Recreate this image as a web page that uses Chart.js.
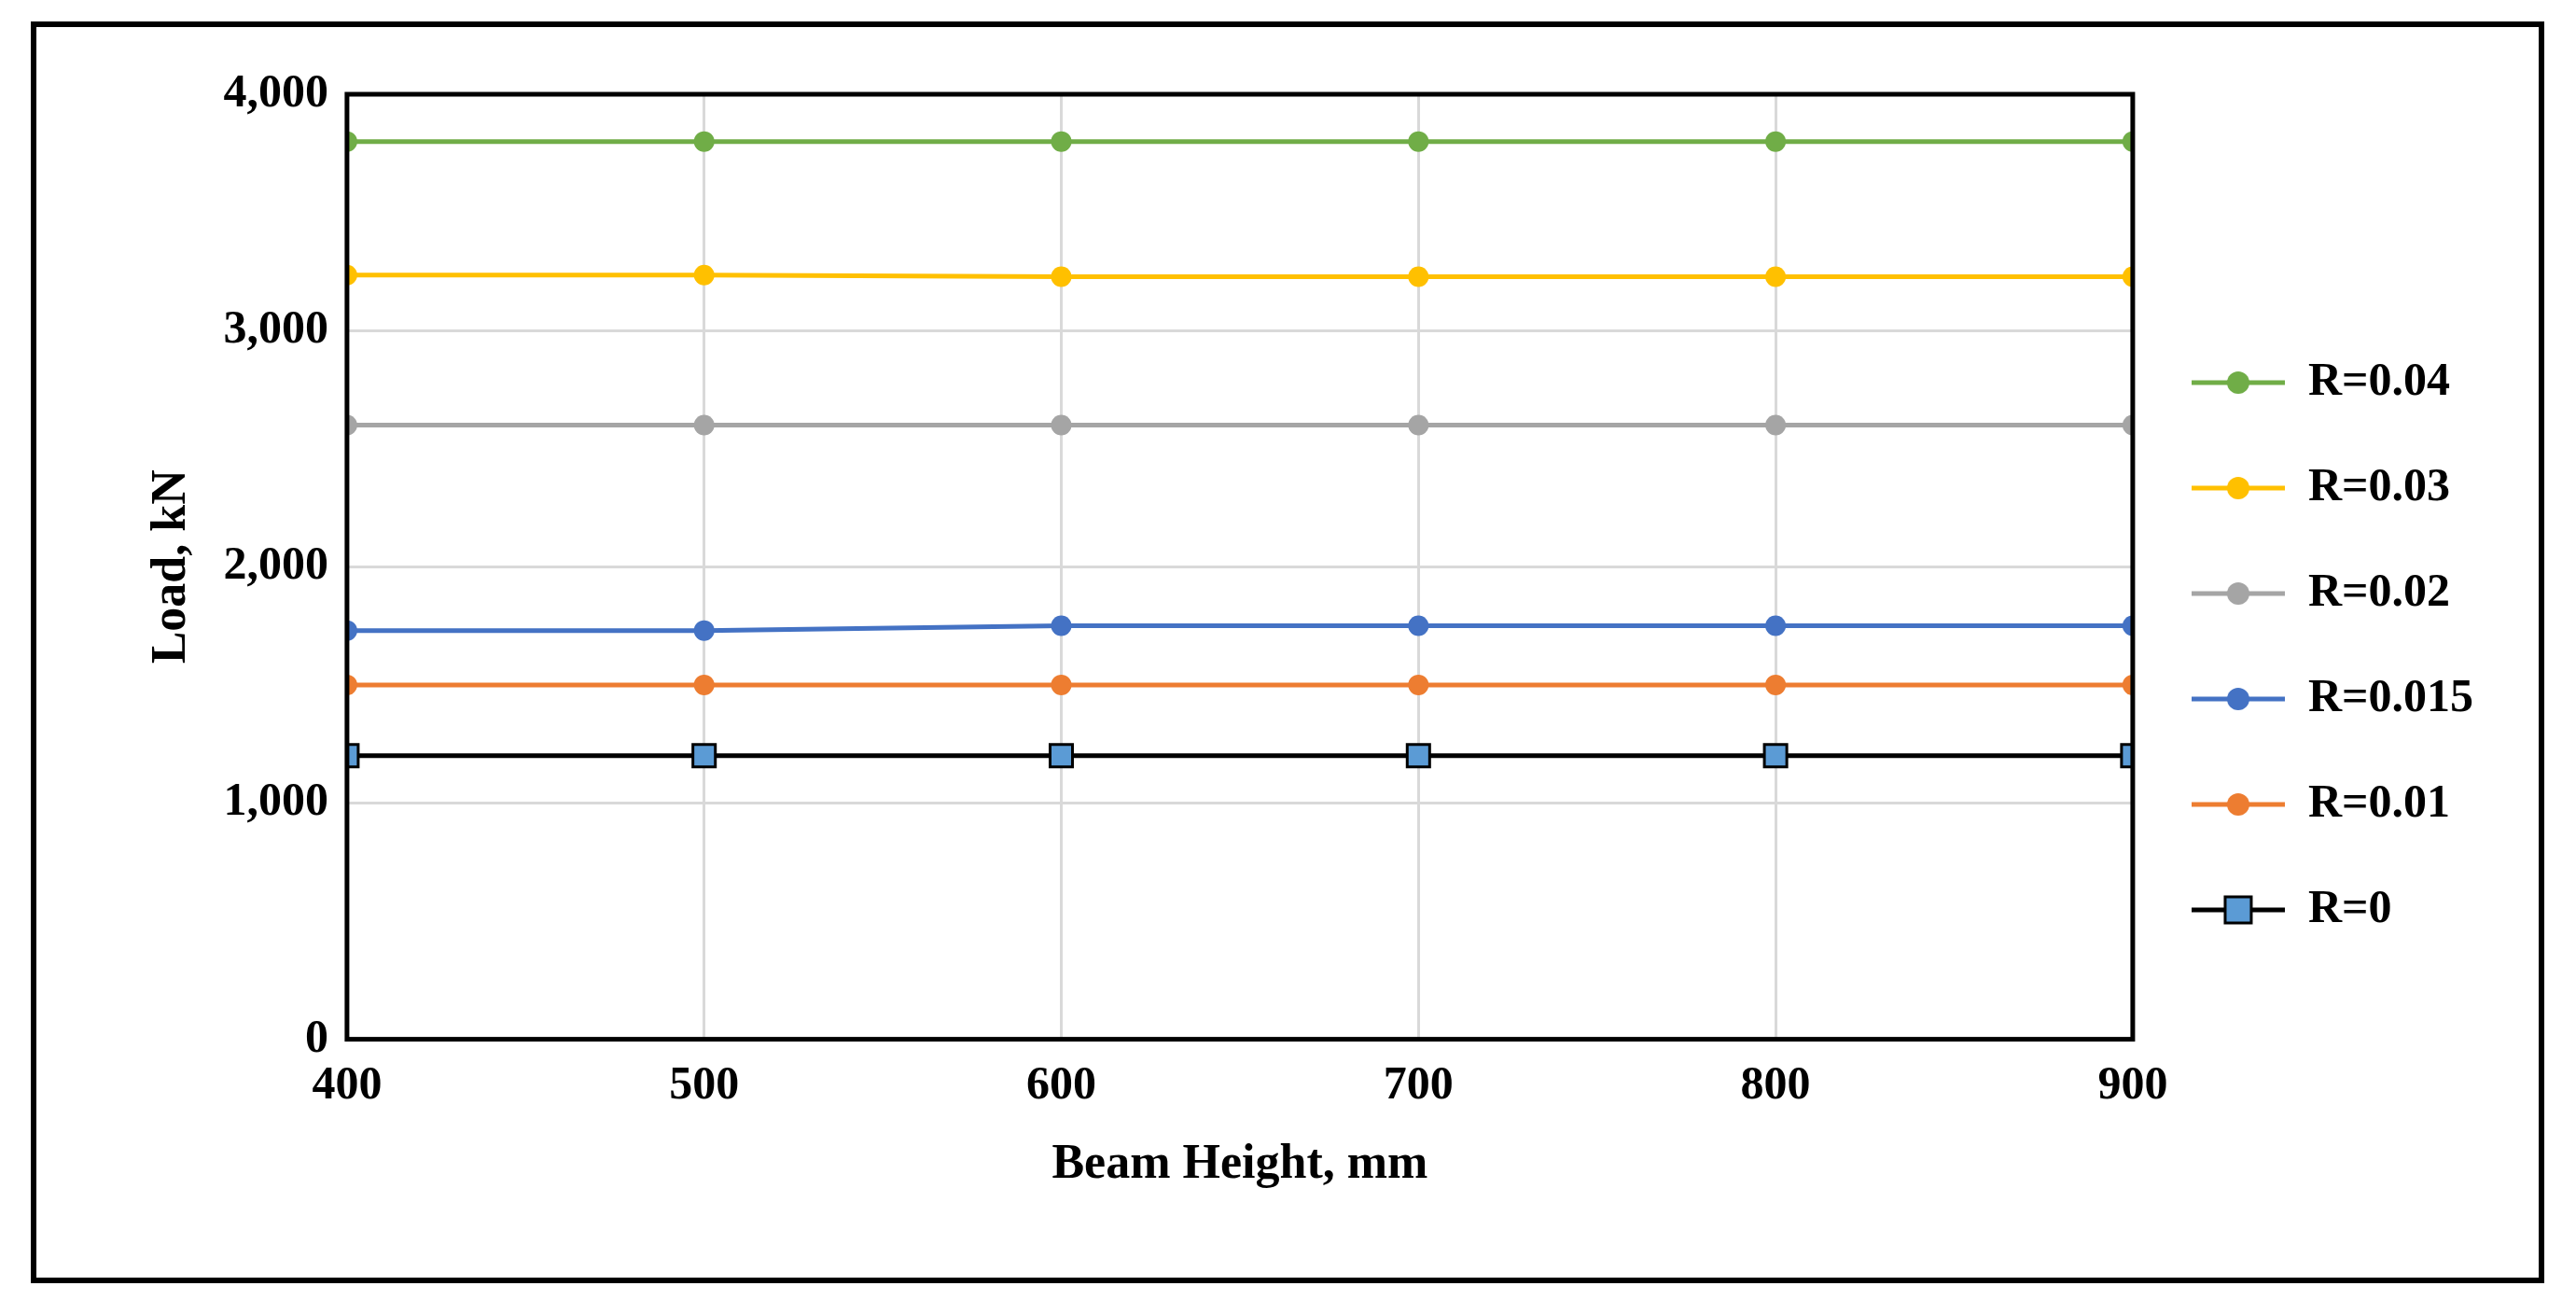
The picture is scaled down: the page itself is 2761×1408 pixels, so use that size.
<!DOCTYPE html>
<html>
<head>
<script src="https://cdn.jsdelivr.net/npm/chart.js@4"></script>
<style>
  body { margin: 0; background: #fff; }
  #box { position: absolute; left: 33px; top: 23px; width: 2682px; height: 1340px; border: 6px solid #000; }
  canvas { display: block; }
</style>
</head>
<body>
<div id="box"><canvas id="c" width="2682" height="1340"></canvas></div>
<script>
const heights = [400, 500, 600, 700, 800, 900];
const r004 = [3800, 3800, 3800, 3800, 3800, 3800];
const r003 = [3235, 3235, 3228, 3228, 3228, 3228];
const r002 = [2600, 2600, 2600, 2600, 2600, 2600];
const r0015 = [1730, 1730, 1750, 1750, 1750, 1750];
const r001 = [1500, 1500, 1500, 1500, 1500, 1500];
const r0 = [1200, 1200, 1200, 1200, 1200, 1200];
const yTicks = [0, 1000, 2000, 3000, 4000];

const FONT = '"Liberation Serif", "Times New Roman", serif';

// little line+marker picture for each legend entry
function legendIcon(color, square) {
    const cv = document.createElement('canvas');
    cv.width = 100; cv.height = 40;
    const g = cv.getContext('2d');
    g.strokeStyle = square ? '#000' : color;
    g.lineWidth = 5;
    g.beginPath(); g.moveTo(0, 20); g.lineTo(100, 20); g.stroke();
    if (square) {
        g.fillStyle = color; g.lineWidth = 3;
        g.fillRect(36, 6, 28, 28); g.strokeRect(36, 6, 28, 28);
    } else {
        g.fillStyle = color;
        g.beginPath(); g.arc(50, 20, 12, 0, Math.PI * 2); g.fill();
    }
    return cv;
}

function series(label, data, color, square) {
    return {
        label, data,
        borderColor: square ? '#000' : color,
        backgroundColor: color,
        pointBackgroundColor: color,
        pointBorderColor: square ? '#000' : color,
        pointBorderWidth: square ? 3 : 0,
        pointStyle: square ? 'rect' : 'circle',
        pointRadius: square ? 17 : 11,
        borderWidth: 5,
        icon: legendIcon(color, square)
    };
}

const frame = {
    id: 'frame',
    afterDraw(chart) {
        const { ctx, chartArea: a } = chart;
        ctx.save();
        ctx.strokeStyle = '#000'; ctx.lineWidth = 5;
        ctx.strokeRect(a.left, a.top, a.right - a.left, a.bottom - a.top);
        ctx.restore();
    }
};

new Chart(document.getElementById('c'), {
    type: 'line',
    data: {
        labels: heights,
        datasets: [
            series('R=0.04', r004, '#70ad47'),
            series('R=0.03', r003, '#ffc000'),
            series('R=0.02', r002, '#a5a5a5'),
            series('R=0.015', r0015, '#4472c4'),
            series('R=0.01', r001, '#ed7d31'),
            series('R=0', r0, '#5b9bd5', true)
        ]
    },
    options: {
        responsive: false,
        animation: false,
        devicePixelRatio: 1,
        layout: { padding: { top: 72, right: 60, bottom: 85, left: 110 } },
        plugins: {
            legend: {
                position: 'right',
                labels: {
                    font: { family: FONT, size: 50, weight: 'bold' },
                    color: '#000',
                    padding: 63,
                    boxHeight: 40,
                    usePointStyle: true,
                    pointStyleWidth: 100,
                    generateLabels(chart) {
                        return chart.data.datasets.map((d, i) => ({
                            text: d.label, pointStyle: d.icon, fontColor: '#000',
                            datasetIndex: i, lineWidth: 0, strokeStyle: 'transparent'
                        }));
                    }
                }
            },
            tooltip: { enabled: false }
        },
        scales: {
            x: {
                type: 'linear', min: 400, max: 900,
                afterBuildTicks(ax) { ax.ticks = heights.map(v => ({ value: v })); },
                grid: { color: '#d9d9d9', lineWidth: 3, drawTicks: false },
                border: { display: false },
                ticks: { font: { family: FONT, size: 50, weight: 'bold' }, color: '#000', padding: 20 },
                title: { display: true, text: 'Beam Height, mm', font: { family: FONT, size: 52, weight: 'bold' }, color: '#000' }
            },
            y: {
                min: 0, max: 4000,
                afterBuildTicks(ax) { ax.ticks = yTicks.map(v => ({ value: v })); },
                grid: { color: '#d9d9d9', lineWidth: 3, drawTicks: false },
                border: { display: false },
                ticks: { font: { family: FONT, size: 50, weight: 'bold' }, color: '#000', padding: 20 },
                title: { display: true, text: 'Load, kN', font: { family: FONT, size: 52, weight: 'bold' }, color: '#000' }
            }
        }
    },
    plugins: [frame]
});
</script>
</body>
</html>
